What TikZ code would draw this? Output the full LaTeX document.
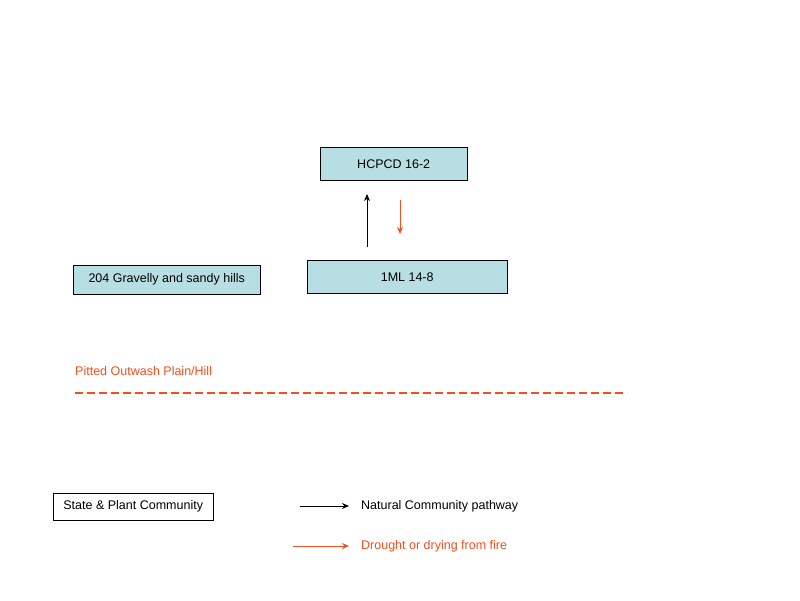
\documentclass[tikz,border=0pt]{standalone}
\usepackage{fontspec}
\setmainfont{Liberation Sans}
\usetikzlibrary{arrows.meta}
\definecolor{boxblue}{HTML}{B7DEE3}
\definecolor{fire}{HTML}{F0501E}
\begin{document}
\begin{tikzpicture}[x=1pt,y=-1pt,font=\fontsize{12.5}{15}\selectfont,
  sbox/.style={draw=black,fill=boxblue,minimum height=33pt,inner sep=0pt},
  arr/.style={-{Stealth[length=7pt,width=6pt]},line width=1pt}]
\useasboundingbox (0,0) rectangle (800,600);
\node[sbox,minimum width=147pt,anchor=north west] (h) at (320,147) {HCPCD 16-2};
\node[sbox,minimum width=200pt,anchor=north west] (m) at (307,260) {1ML 14-8};
\node[sbox,minimum width=187pt,minimum height=29pt,anchor=north west] (g) at (73,265) {204 Gravelly and sandy hills};
\coordinate (a1) at (367,247); \coordinate (a2) at (367,194);
\draw[arr] (a1) -- (a2);
\coordinate (b1) at (400,200); \coordinate (b2) at (400,234);
\draw[arr,fire] (b1) -- (b2);
\node[fire,anchor=west,inner sep=0pt] (p) at (75,371) {Pitted Outwash Plain/Hill};
\coordinate (d1) at (75,393); \coordinate (d2) at (627,393);
\draw[fire,line width=1.3pt,dash pattern=on 8pt off 4pt] (d1) -- (d2);
\node[draw=black,fill=white,minimum width=160pt,minimum height=27pt,inner sep=0pt,anchor=north west] (s) at (53,493) {State \& Plant Community};
\node[anchor=west,inner sep=0pt] (n) at (361,506) {Natural Community pathway};
\coordinate (l1) at (300,506);
\draw[arr] (l1) -- ([xshift=-12pt]n.west);
\node[anchor=west,inner sep=0pt,fire] (f) at (361,546) {Drought or drying from fire};
\coordinate (l2) at (293,546);
\draw[arr,fire] (l2) -- ([xshift=-12pt]f.west);
\end{tikzpicture}
\end{document}
